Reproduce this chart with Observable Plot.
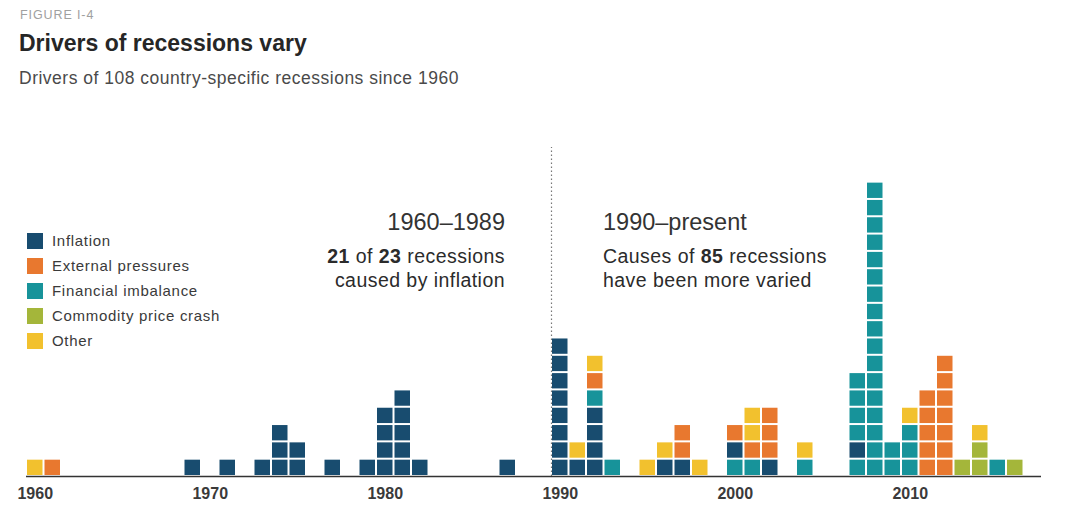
<!DOCTYPE html>
<html>
<head>
<meta charset="utf-8">
<script src="https://cdn.jsdelivr.net/npm/d3@7"></script>
<script src="https://cdn.jsdelivr.net/npm/@observablehq/plot@0.6"></script>
<style>
  html, body { margin: 0; padding: 0; background: #fff; }
  body { width: 1080px; height: 514px; position: relative; overflow: hidden;
         font-family: "Liberation Sans", Arial, "DejaVu Sans", sans-serif; }
  #head { position: absolute; left: 0; top: 0; width: 1080px; height: 100px; }
  .fig { position: absolute; left: 20px; top: 8px; font-size: 12.5px; color: #a0a0a0; letter-spacing: 0.9px; }
  .title { position: absolute; left: 19px; top: 30px; font-size: 23px; font-weight: bold; color: #262626; }
  .sub { position: absolute; left: 19px; top: 68px; font-size: 17.5px; color: #4a4a4a; letter-spacing: 0.5px; }
  #chart { position: absolute; left: 0; top: 100px; }
  #legend { position: absolute; left: 27px; top: 228px; }
  .lg { height: 25px; display: flex; align-items: center; font-size: 15px; color: #3a3a3a; letter-spacing: 0.7px; }
  .lg span.sw { display: inline-block; width: 16px; height: 16px; margin-right: 9px; }
  .note { position: absolute; color: #2b2b2b; line-height: 24px; }
  .note .h { font-size: 23.5px; color: #333; line-height: 28px; margin-bottom: 8px; }
  .note .t { font-size: 19.5px; letter-spacing: 0.45px; }
  #noteL { right: 575px; top: 208px; text-align: right; }
  #noteR { left: 603px; top: 208px; text-align: left; }
</style>
</head>
<body>
<div id="head">
  <div class="fig">FIGURE I-4</div>
  <div class="title">Drivers of recessions vary</div>
  <div class="sub">Drivers of 108 country-specific recessions since 1960</div>
</div>
<div id="chart"></div>
<div id="legend"></div>
<div id="noteL" class="note">
  <div class="h">1960–1989</div>
  <div class="t"><b>21</b> of <b>23</b> recessions</div>
  <div class="t">caused by inflation</div>
</div>
<div id="noteR" class="note">
  <div class="h">1990–present</div>
  <div class="t">Causes of <b>85</b> recessions</div>
  <div class="t">have been more varied</div>
</div>
<script>
// Categories and colours
const codes = ["I", "E", "F", "C", "O"];
const categories = ["Inflation", "External pressures", "Financial imbalance", "Commodity price crash", "Other"];
const colors = ["#184c6f", "#e8782f", "#17939a", "#a4b63a", "#f2c12e"];

// Years with recessions and stacked causes (bottom to top, one letter per recession)
const years = [1960, 1961, 1969, 1971, 1973, 1974, 1975, 1977, 1979, 1980, 1981, 1982, 1987,
               1990, 1991, 1992, 1993, 1995, 1996, 1997, 1998, 2000, 2001, 2002, 2004,
               2007, 2008, 2009, 2010, 2011, 2012, 2013, 2014, 2015, 2016];
const stacks = ["O", "E", "I", "I", "I", "III", "II", "I", "I", "IIII", "IIIII", "I", "I",
                "IIIIIIII", "IO", "IIIIFEO", "F", "O", "IO", "IEE", "O", "FIE", "FEOO", "IEEE", "FO",
                "FIFFFF", "FFFFFFFFFFFFFFFFF", "FF", "FFFO", "EEEEE", "EEEEEEE", "C", "CCO", "F", "C"];

const tickYears = [1960, 1970, 1980, 1990, 2000, 2010];
const divider = [1989.5];

const cells = [];
years.forEach((yr, k) => {
  [...stacks[k]].forEach((c, i) => cells.push({year: yr, i, code: c}));
});

const font = '"Liberation Sans", Arial, sans-serif';
const chart = Plot.plot({
  width: 1080,
  height: 414,
  marginLeft: 26,
  marginRight: 39,
  marginTop: 47,
  marginBottom: 38,
  style: {fontFamily: font, fontSize: "13px", color: "#333", background: "transparent"},
  x: {domain: [1959.5, 2017.5], ticks: tickYears, tickFormat: d => String(d), tickSize: 0, tickPadding: 11, label: null},
  y: {domain: [0, 19], axis: null},
  color: {domain: codes, range: colors},
  marks: [
    Plot.ruleX(divider, {y1: 0, y2: 19, stroke: "#777", strokeWidth: 1.2, strokeDasharray: "1.5,2.5"}),
    Plot.rect(cells, {x1: d => d.year - 0.5, x2: d => d.year + 0.5, y1: "i", y2: d => d.i + 1, fill: "code", inset: 1}),
    Plot.ruleY([0], {stroke: "#333", strokeWidth: 1.5})
  ]
});
chart.querySelectorAll("g[aria-label='x-axis tick label'] text, g[aria-label='x-axis'] text").forEach(t => {
  t.style.fontWeight = "600"; t.style.fontSize = "16px"; t.setAttribute("fill", "#3a3a3a");
});
document.getElementById("chart").appendChild(chart);

const lg = document.getElementById("legend");
categories.forEach((name, k) => {
  const row = document.createElement("div");
  row.className = "lg";
  row.innerHTML = `<span class="sw" style="background:${colors[k]}"></span>${name}`;
  lg.appendChild(row);
});
</script>
</body>
</html>
